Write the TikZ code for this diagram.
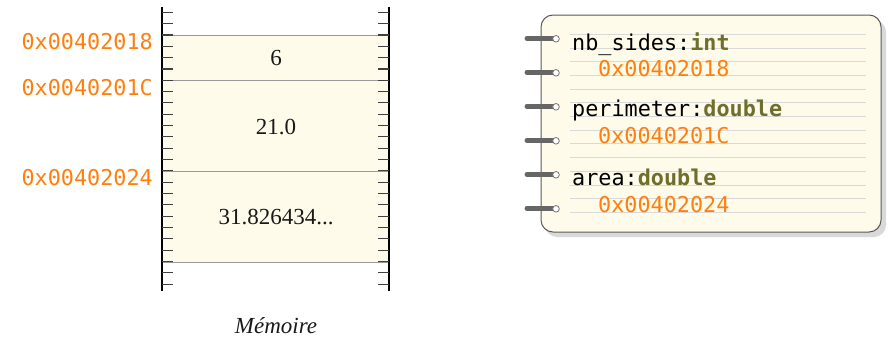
\documentclass[tikz,border=0pt]{standalone}
\usepackage{fontspec}
\setmainfont{Liberation Serif}
\setmonofont{DejaVu Sans Mono}
\definecolor{addr}{RGB}{255,127,14}
\definecolor{olivetype}{RGB}{110,110,45}
\definecolor{memfill}{RGB}{254,251,234}
\definecolor{notefill}{RGB}{255,251,234}
\tikzset{
  x=1pt, y=-1pt,
  addrlabel/.style={font=\fontsize{21.8}{24}\selectfont\ttfamily, text=addr, inner sep=0pt},
  varlabel/.style={font=\fontsize{21.8}{24}\selectfont\ttfamily, text=black, inner sep=0pt, anchor=base west},
  valuelabel/.style={font=\fontsize{23}{25}\selectfont, text=black!90, inner sep=0pt},
  rail/.style={line width=1.6pt, black},
  tick/.style={line width=1.1pt, black!75},
  sep/.style={line width=0.8pt, black!40},
  ruled/.style={line width=1pt, black!15},
  ringbar/.style={line width=5pt, black!60, line cap=round},
}
\newcommand{\tp}[1]{\textbf{\color{olivetype}#1}}
\begin{document}
\begin{tikzpicture}
\useasboundingbox (0,0) rectangle (888,340);
% memory cells
\fill[memfill] (162,35) rectangle (389,262);
\draw[sep] (162,35) -- (389,35);
\draw[sep] (162,80.3) -- (389,80.3);
\draw[sep] (162,171) -- (389,171);
\draw[sep] (162,262) -- (389,262);
% rails
\coordinate (lt) at (162,7);
\coordinate (lb) at (162,291);
\coordinate (rt) at (389,7);
\coordinate (rb) at (389,291);
\draw[rail] (lt) -- (lb);
\draw[rail] (rt) -- (rb);
\foreach \k in {0,...,24}{
  \draw[tick] (162,12.3+11.33*\k) -- (173,12.3+11.33*\k);
  \draw[tick] (378,12.3+11.33*\k) -- (389,12.3+11.33*\k);
}
% values
\node[valuelabel] (v1) at (276,58) {6};
\node[valuelabel] (v2) at (276,127) {21.0};
\node[valuelabel] (v3) at (276,217) {31.826434...};
\node[valuelabel, font=\fontsize{23}{25}\selectfont\itshape] (mem) at (276,326) {Mémoire};
% addresses
\node[addrlabel, anchor=east] (a1) at (153,42) {0x00402018};
\node[addrlabel, anchor=east] (a2) at (153,88) {0x0040201C};
\node[addrlabel, anchor=east] (a3) at (153,178) {0x00402024};
% notebook
\fill[black!15, rounded corners=12pt] (545,20) rectangle (886,237);
\filldraw[fill=notefill, draw=black!65, line width=1pt, rounded corners=12pt] (541,15) rectangle (881,232);
\foreach \yy in {34.3,48.0,61.7,75.4,89.1,102.8,116.5,130.2,143.9,157.6,171.3,185.0,198.7,212.4}{
  \draw[ruled] (570,\yy) -- (866,\yy);
}
\foreach \yy in {38.3,72.3,106.3,140.3,174.3,208.3}{
  \draw[ringbar] (527,\yy) -- (553,\yy);
  \filldraw[fill=white, draw=black!55, line width=0.8pt] (556,\yy+0.5) circle (3.3);
}
\node[varlabel] (n1) at (572,50) {nb\_sides:\tp{int}};
\node[addrlabel, anchor=base west] (n1a) at (598,76) {0x00402018};
\node[varlabel] (n2) at (572,116) {perimeter:\tp{double}};
\node[addrlabel, anchor=base west] (n2a) at (598,143) {0x0040201C};
\node[varlabel] (n3) at (572,185) {area:\tp{double}};
\node[addrlabel, anchor=base west] (n3a) at (598,212) {0x00402024};
\end{tikzpicture}
\end{document}
